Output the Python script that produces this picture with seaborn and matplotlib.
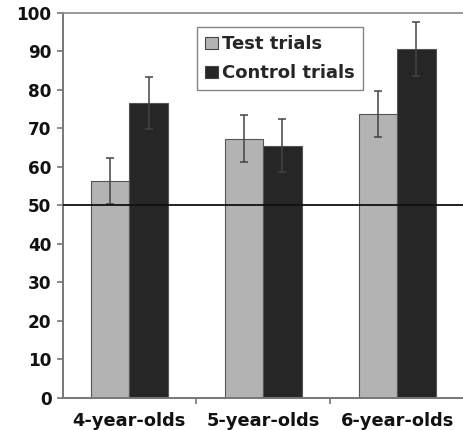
import matplotlib
matplotlib.use("Agg")
import matplotlib.pyplot as plt
import seaborn as sns
import pandas as pd
import numpy as np

categories = ["4-year-olds", "5-year-olds", "6-year-olds"]
series = ["Test trials", "Control trials"]
test_values = [56.3, 67.3, 73.7]
control_values = [76.5, 65.5, 90.5]
test_err = [6.0, 6.0, 6.0]
control_err = [6.8, 6.8, 7.0]
yticks = [0, 10, 20, 30, 40, 50, 60, 70, 80, 90, 100]

df = pd.DataFrame({
    "age": categories * 2,
    "trial": [series[0]] * 3 + [series[1]] * 3,
    "value": test_values + control_values,
})

sns.set_style("white")
plt.rcParams["font.family"] = ["DejaVu Sans"]
plt.rcParams["font.weight"] = "bold"

fig = plt.figure(figsize=(4.64, 4.30), dpi=100)
ax = fig.add_axes([62.5 / 464, 32.3 / 430, (464 - 62.5) / 464, 385 / 430])

sns.barplot(data=df, x="age", y="value", hue="trial", order=categories,
            hue_order=series, palette=["#b3b3b3", "#262626"], width=0.575,
            errorbar=None, edgecolor="#555555", linewidth=0.8, ax=ax,
            saturation=1)

errs = [test_err, control_err]
for cont, err, vals in zip(ax.containers, errs, [test_values, control_values]):
    xs = [b.get_x() + b.get_width() / 2 for b in cont]
    ax.errorbar(xs, vals, yerr=err, fmt="none", ecolor="#444444",
                elinewidth=1.1, capsize=2.8, capthick=1.1, zorder=5)

ax.axhline(50, color="#111111", lw=1.3, zorder=6)

ax.set_xlim(-0.5, 2.5)
ax.set_ylim(0, 100)
ax.set_yticks(yticks)
ax.set_xlabel("")
ax.set_ylabel("")
ax.set_xticks([0.5, 1.5], minor=True)
ax.tick_params(axis="x", which="major", length=0, pad=10, labelsize=12.8,
               labelcolor="#111111")
ax.tick_params(axis="x", which="minor", length=4.5, width=1.2, color="#777777",
               direction="out", bottom=True)
ax.tick_params(axis="y", which="major", length=4, width=1.2, color="#777777",
               direction="out", left=True, pad=4, labelsize=12.2,
               labelcolor="#111111")
for lab in ax.get_xticklabels() + ax.get_yticklabels():
    lab.set_fontweight("bold")

for s in ["left", "bottom"]:
    ax.spines[s].set_color("#777777")
    ax.spines[s].set_linewidth(1.4)
ax.spines["top"].set_color("#888888")
ax.spines["top"].set_linewidth(1.2)
ax.spines["right"].set_color("#d0d0d0")
ax.spines["right"].set_linewidth(0.8)

leg = ax.legend(loc="upper left", bbox_to_anchor=(0.335, 0.962),
                borderaxespad=0, frameon=True, fancybox=False,
                prop={"size": 13, "weight": "bold"}, handlelength=0.7,
                handleheight=0.7, handletextpad=0.25, labelspacing=0.6,
                borderpad=0.45)
leg.get_frame().set_edgecolor("#666666")
leg.get_frame().set_linewidth(1.0)
for h in leg.legend_handles:
    h.set_edgecolor("#444444")
    h.set_linewidth(0.8)

fig.savefig("out.png", dpi=100)
